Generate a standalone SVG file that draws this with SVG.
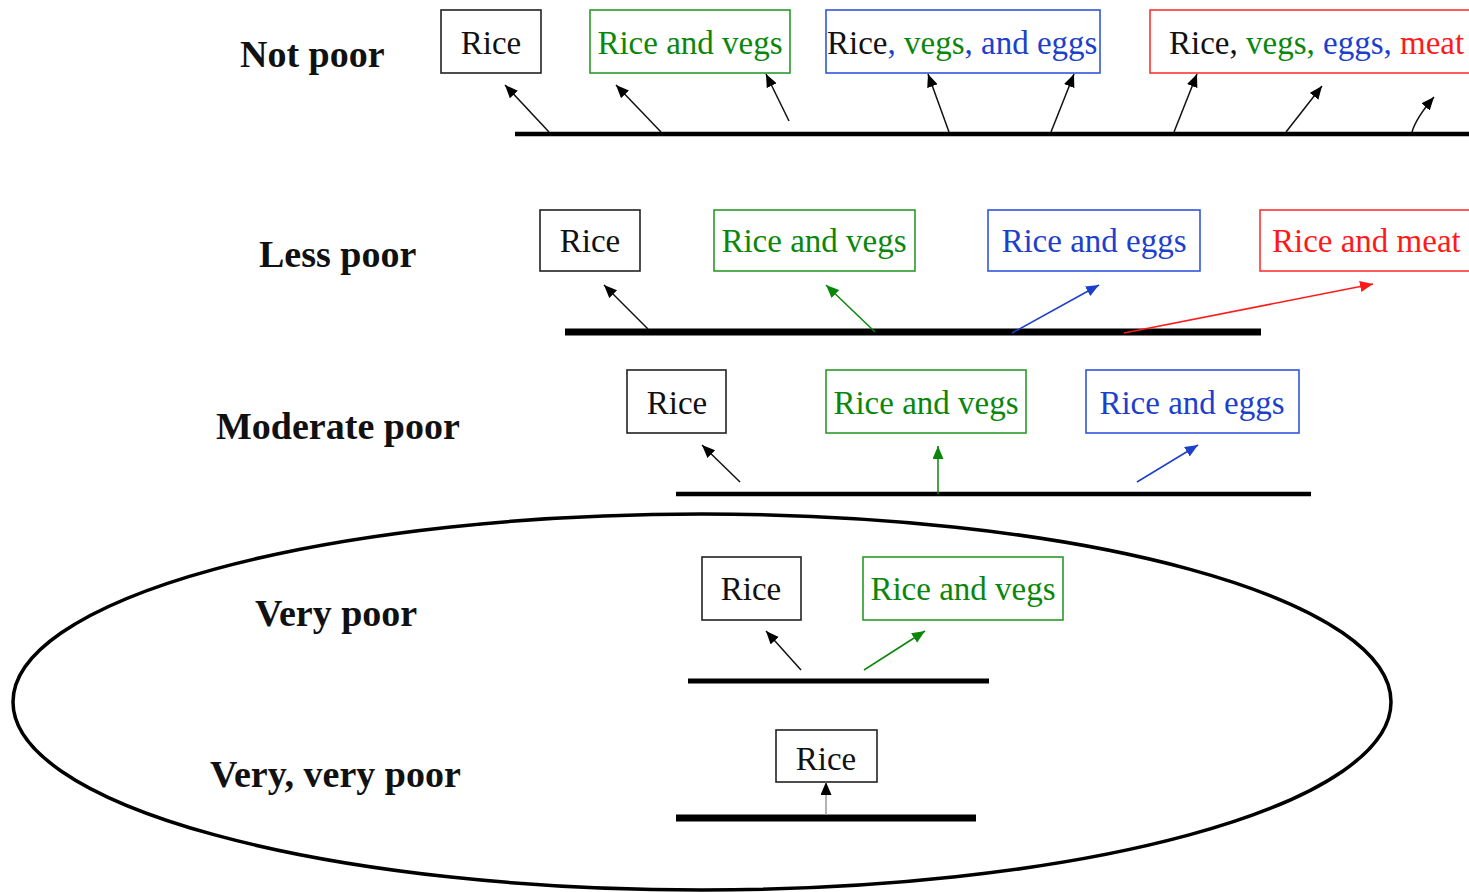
<svg xmlns="http://www.w3.org/2000/svg" width="1469" height="892" viewBox="0 0 1469 892">
<style>
.lbl{font-family:"Liberation Serif","Times New Roman",serif;font-weight:bold;font-size:38px;fill:#111}
.t{font-family:"Liberation Serif","Times New Roman",serif;font-size:33px}
.k{fill:#111}.g{fill:#0a870a}.b{fill:#1c3fcc}.r{fill:#ff1a1a}
.box{fill:#fff;stroke-width:1.6}
.bk{stroke:#222}.bg{stroke:#2a9a2a}.bb{stroke:#3355dd}.br{stroke:#ff3333}
.base{stroke:#000}
.a{fill:none;stroke-width:1.5}
</style>
<defs>
<marker id="mk" markerUnits="userSpaceOnUse" markerWidth="15" markerHeight="12" refX="13" refY="5.5" orient="auto"><path d="M0,0 L13,5.5 L0,11 Z" fill="#000"/></marker>
<marker id="mg" markerUnits="userSpaceOnUse" markerWidth="15" markerHeight="12" refX="13" refY="5.5" orient="auto"><path d="M0,0 L13,5.5 L0,11 Z" fill="#0a870a"/></marker>
<marker id="mb" markerUnits="userSpaceOnUse" markerWidth="15" markerHeight="12" refX="13" refY="5.5" orient="auto"><path d="M0,0 L13,5.5 L0,11 Z" fill="#1c3fcc"/></marker>
<marker id="mr" markerUnits="userSpaceOnUse" markerWidth="15" markerHeight="12" refX="13" refY="5.5" orient="auto"><path d="M0,0 L13,5.5 L0,11 Z" fill="#ff1a1a"/></marker>
</defs>

<ellipse cx="702" cy="702" rx="689" ry="188" fill="none" stroke="#000" stroke-width="3.5"/>

<g id="labels">
<text class="lbl" x="240" y="67">Not poor</text>
<text class="lbl" x="259" y="267">Less poor</text>
<text class="lbl" x="216" y="439">Moderate poor</text>
<text class="lbl" x="255" y="626">Very poor</text>
<text class="lbl" x="210" y="787">Very, very poor</text>
</g>

<!-- Row 1: Not poor -->
<g id="n1-rice"><rect class="box bk" x="441" y="10" width="100" height="63"/><text class="t k" x="491" y="54" text-anchor="middle">Rice</text></g>
<g id="n1-vegs"><rect class="box bg" x="590" y="10" width="200" height="63"/><text class="t g" x="690" y="54" text-anchor="middle">Rice and vegs</text></g>
<g id="n1-eggs"><rect class="box bb" x="826" y="10" width="274" height="63"/><text class="t" x="827" y="54"><tspan class="k">Rice</tspan><tspan class="b">, </tspan><tspan class="g">vegs</tspan><tspan class="b">, and eggs</tspan></text></g>
<g id="n1-meat"><rect class="box br" x="1150" y="10" width="330" height="63"/><text class="t" x="1169" y="54"><tspan class="k">Rice, </tspan><tspan class="g">vegs, </tspan><tspan class="b">eggs, </tspan><tspan class="r">meat</tspan></text></g>

<!-- Row 2: Less poor -->
<g id="n2-rice"><rect class="box bk" x="540" y="210" width="100" height="61"/><text class="t k" x="590" y="252" text-anchor="middle">Rice</text></g>
<g id="n2-vegs"><rect class="box bg" x="714" y="210" width="201" height="61"/><text class="t g" x="814" y="252" text-anchor="middle">Rice and vegs</text></g>
<g id="n2-eggs"><rect class="box bb" x="988" y="210" width="212" height="61"/><text class="t b" x="1094" y="252" text-anchor="middle">Rice and eggs</text></g>
<g id="n2-meat"><rect class="box br" x="1260" y="210" width="220" height="61"/><text class="t r" x="1272" y="252">Rice and meat</text></g>

<!-- Row 3: Moderate poor -->
<g id="n3-rice"><rect class="box bk" x="627" y="370" width="99" height="63" stroke-width="2.4"/><text class="t k" x="677" y="414" text-anchor="middle">Rice</text></g>
<g id="n3-vegs"><rect class="box bg" x="826" y="370" width="200" height="63"/><text class="t g" x="926" y="414" text-anchor="middle">Rice and vegs</text></g>
<g id="n3-eggs"><rect class="box bb" x="1086" y="370" width="213" height="63" stroke-width="2.4"/><text class="t b" x="1192" y="414" text-anchor="middle">Rice and eggs</text></g>

<!-- Row 4: Very poor -->
<g id="n4-rice"><rect class="box bk" x="702" y="557" width="99" height="63"/><text class="t k" x="751" y="600" text-anchor="middle">Rice</text></g>
<g id="n4-vegs"><rect class="box bg" x="863" y="557" width="200" height="63"/><text class="t g" x="963" y="600" text-anchor="middle">Rice and vegs</text></g>

<!-- Row 5: Very, very poor -->
<g id="n5-rice"><rect class="box bk" x="776" y="730" width="101" height="52"/><text class="t k" x="826" y="770" text-anchor="middle">Rice</text></g>

<g id="connectors">
<line class="base" x1="515" y1="134" x2="1469" y2="134" stroke-width="4.5"/>
<line class="base" x1="565" y1="332" x2="1261" y2="332" stroke-width="7"/>
<line class="base" x1="676" y1="494" x2="1311" y2="494" stroke-width="4.5"/>
<line class="base" x1="688" y1="681" x2="989" y2="681" stroke-width="5"/>
<line class="base" x1="676" y1="818" x2="976" y2="818" stroke-width="7"/>

<line class="a" stroke="#111" x1="549" y1="132" x2="505" y2="85" marker-end="url(#mk)"/>
<line class="a" stroke="#111" x1="661" y1="132" x2="616" y2="85" marker-end="url(#mk)"/>
<line class="a" stroke="#111" x1="789" y1="121" x2="766" y2="74" marker-end="url(#mk)"/>
<line class="a" stroke="#111" x1="949" y1="132" x2="928" y2="74" marker-end="url(#mk)"/>
<line class="a" stroke="#111" x1="1051" y1="132" x2="1074" y2="74" marker-end="url(#mk)"/>
<line class="a" stroke="#111" x1="1174" y1="132" x2="1197" y2="74" marker-end="url(#mk)"/>
<line class="a" stroke="#111" x1="1286" y1="132" x2="1322" y2="86" marker-end="url(#mk)"/>
<path class="a" stroke="#111" d="M1412,132 Q1416,118 1434,97" marker-end="url(#mk)"/>

<line class="a" stroke="#111" x1="648" y1="329" x2="604" y2="285" marker-end="url(#mk)"/>
<line class="a" stroke="#0a870a" x1="875" y1="332" x2="826" y2="285" marker-end="url(#mg)"/>
<line class="a" stroke="#1c3fcc" x1="1012" y1="333" x2="1099" y2="285" marker-end="url(#mb)"/>
<line class="a" stroke="#ff1a1a" x1="1124" y1="333" x2="1373" y2="284" marker-end="url(#mr)"/>

<line class="a" stroke="#111" x1="740" y1="482" x2="702" y2="445" marker-end="url(#mk)"/>
<line class="a" stroke="#0a870a" x1="938" y1="494" x2="938" y2="446" marker-end="url(#mg)"/>
<line class="a" stroke="#1c3fcc" x1="1137" y1="482" x2="1198" y2="445" marker-end="url(#mb)"/>

<line class="a" stroke="#111" x1="801" y1="670" x2="766" y2="631" marker-end="url(#mk)"/>
<line class="a" stroke="#0a870a" x1="864" y1="670" x2="925" y2="631" marker-end="url(#mg)"/>

<line class="a" stroke="#999" stroke-width="2" x1="826" y1="815" x2="826" y2="782" marker-end="url(#mk)"/>
</g>
</svg>
